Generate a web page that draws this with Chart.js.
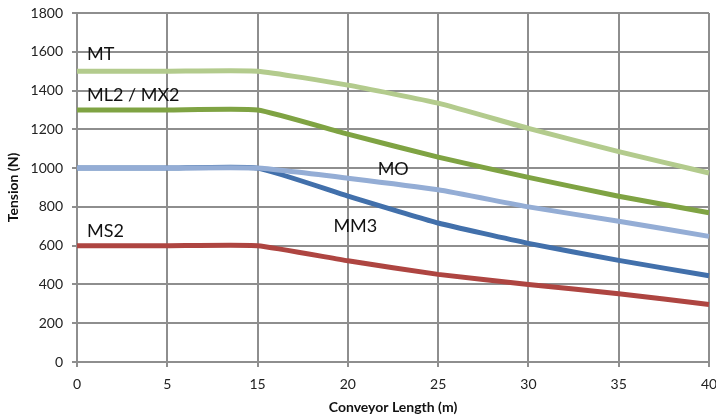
<!DOCTYPE html>
<html>
<head>
<meta charset="utf-8">
<script src="https://cdn.jsdelivr.net/npm/chart.js@4"></script>
<style>
    html, body { margin: 0; padding: 0; background: #fff; }
    #wrap { width: 716px; height: 418px; }
</style>
</head>
<body>
<div id="wrap"><canvas id="chart" width="716" height="418"></canvas></div>
<script>
// Conveyor length categories (the source chart skips 10)
const lengths = ['0', '5', '15', '20', '25', '30', '35', '40'];

// Tension per motor
const mtTension  = [1500, 1500, 1500, 1428, 1335, 1205, 1085, 975];
const mlTension  = [1300, 1300, 1300, 1175, 1057, 952, 855, 770];
const moTension  = [1000, 1000, 1000, 948, 888, 800, 726, 648];
const mm3Tension = [1000, 1000, 1000, 856, 717, 612, 524, 445];
const ms2Tension = [600, 600, 600, 522, 452, 400, 352, 297];

const seriesNames = ['MT', 'ML2 / MX2', 'MO', 'MM3', 'MS2'];
const seriesColors = ['#B3CB8D', '#7FA343', '#94ADD5', '#4270AB', '#AE4541'];

const FONT = 'Lato, "Open Sans", sans-serif';

// Text labels next to the lines, anchored in data units (category index, N)
const lineLabels = [
    { text: 'MT', at: 0.11, value: 1588 },
    { text: 'ML2 / MX2', at: 0.11, value: 1374 },
    { text: 'MO', at: 3.33, value: 997 },
    { text: 'MM3', at: 2.84, value: 703 },
    { text: 'MS2', at: 0.11, value: 673 },
];

const labelPlugin = {
    id: 'lineLabels',
    afterDatasetsDraw(chart) {
        const ctx = chart.ctx;
        const xs = chart.scales.x, ys = chart.scales.y;
        ctx.save();
        ctx.font = '18px ' + FONT;
        ctx.fillStyle = '#111';
        ctx.textAlign = 'left';
        ctx.textBaseline = 'middle';
        lineLabels.forEach(l => {
            ctx.fillText(l.text, xs.getPixelForValue(l.at), ys.getPixelForValue(l.value));
        });
        ctx.restore();
    }
};

const allSeries = [mtTension, mlTension, moTension, mm3Tension, ms2Tension];

const datasets = allSeries.map((values, i) => ({
    label: seriesNames[i],
    data: values,
    borderColor: seriesColors[i],
    backgroundColor: seriesColors[i],
    borderWidth: 5,
    pointRadius: 0,
    tension: 0.15,
    fill: false,
}));

const gridColor = '#8E8E8E';

new Chart(document.getElementById('chart'), {
    type: 'line',
    data: { labels: lengths, datasets: datasets },
    options: {
        responsive: false,
        animation: false,
        layout: { padding: { top: 13, right: 7, left: 0, bottom: 0 } },
        plugins: {
            legend: { display: false },
            tooltip: { enabled: false },
        },
        scales: {
            x: {
                offset: false,
                grid: { color: gridColor, lineWidth: 2, tickLength: 5, tickColor: gridColor },
                border: { color: gridColor, width: 2 },
                ticks: { color: '#222', font: { family: FONT, size: 14 }, padding: 9, maxRotation: 0 },
                title: {
                    display: true, text: 'Conveyor Length (m)', color: '#111',
                    font: { family: FONT, size: 14, weight: 'bold' }, padding: { top: 3, bottom: 2 }
                },
                afterFit(scale) {
                    scale.height = 56;
                    scale.paddingLeft = 0;
                    scale.paddingRight = 0;
                }
            },
            y: {
                min: 0, max: 1800,
                grid: { color: gridColor, lineWidth: 2, tickLength: 5, tickColor: gridColor },
                border: { color: gridColor, width: 2 },
                ticks: {
                    stepSize: 200, color: '#222', font: { family: FONT, size: 14 }, padding: 9,
                    callback: v => String(v)
                },
                title: {
                    display: true, text: 'Tension (N)', color: '#111',
                    font: { family: FONT, size: 14, weight: 'bold' }, padding: { top: 5, bottom: 0 }
                },
                afterFit(scale) {
                    scale.width = 77;
                    scale.paddingTop = 0;
                    scale.paddingBottom = 0;
                }
            }
        }
    },
    plugins: [labelPlugin]
});
</script>
</body>
</html>
